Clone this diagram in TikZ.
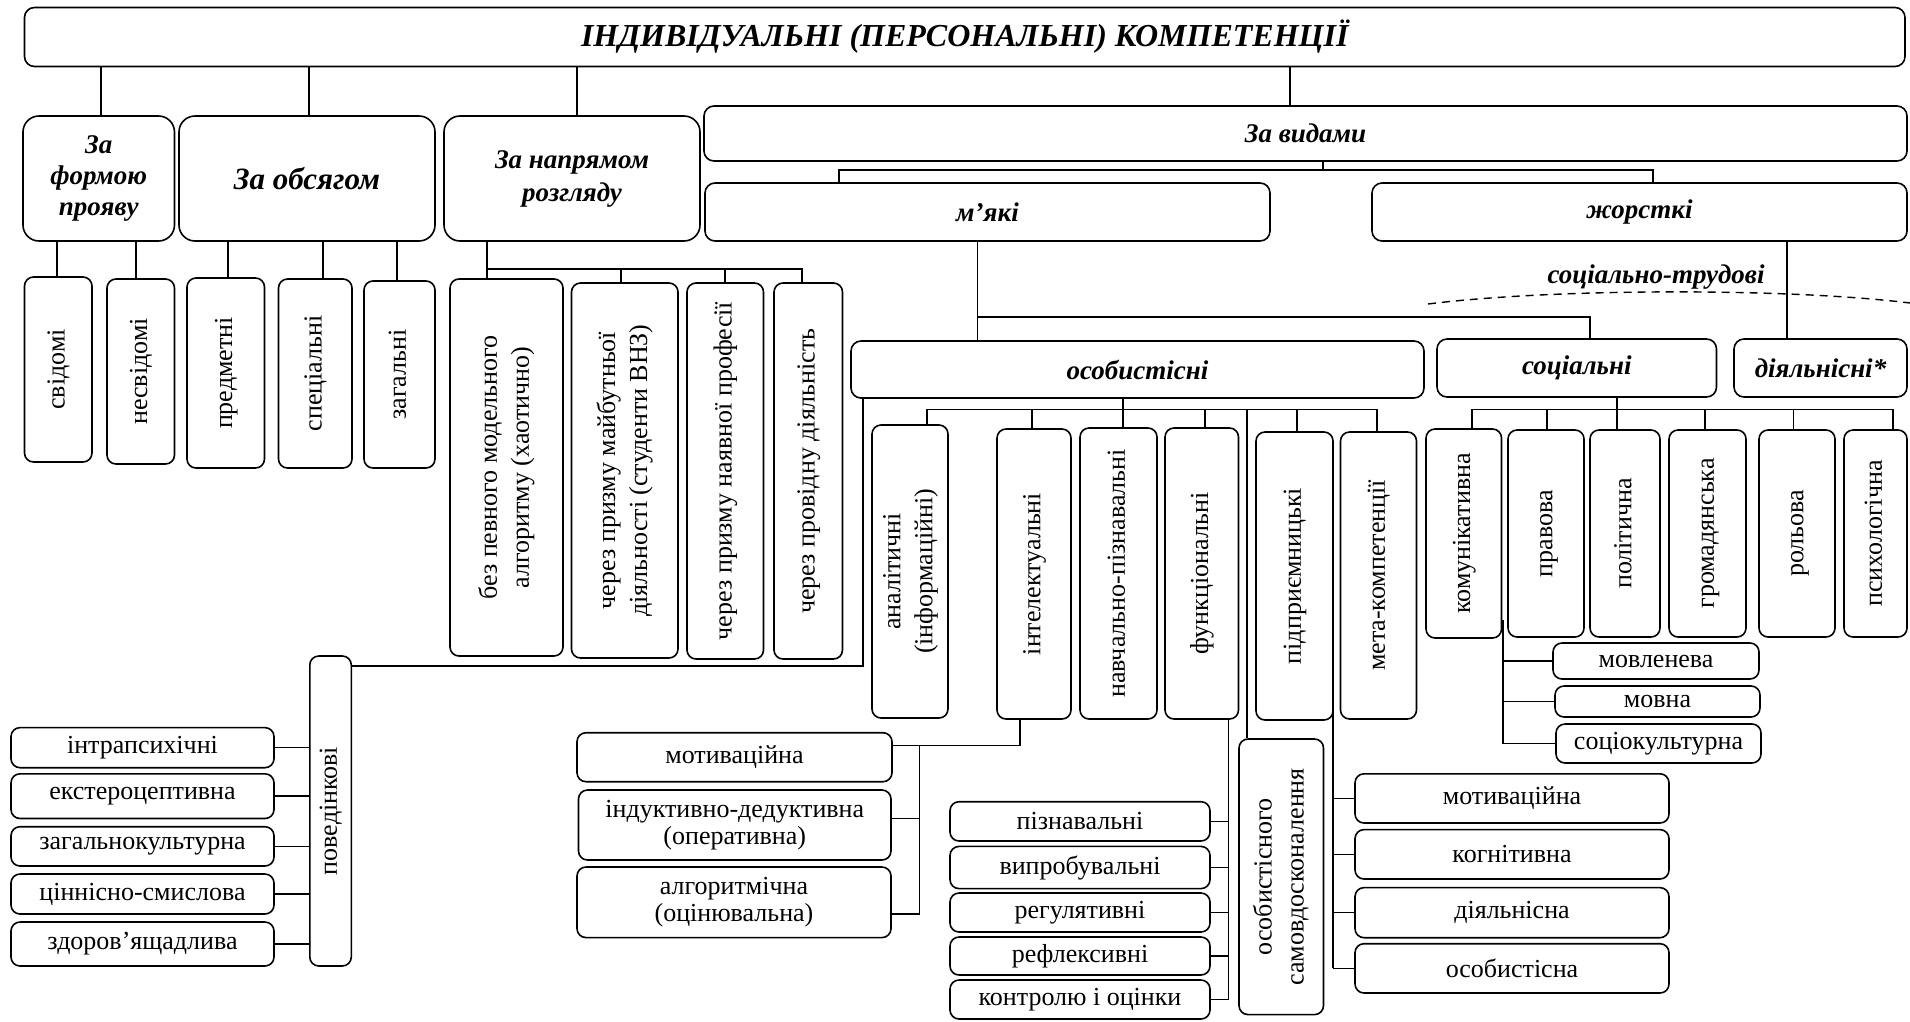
\documentclass[tikz,border=0pt]{standalone}
\usepackage{fontspec}
\usepackage{graphicx}
\setmainfont{Liberation Serif}
\newcommand\nfont{\fontsize{26}{27}\selectfont}
\newcommand\vfont{\fontsize{26}{32}\selectfont}
\newcommand\cfont{\fontsize{27}{32}\selectfont\bfseries\itshape}
\newcommand\vt[1]{\rotatebox{90}{\begin{tabular}{@{}c@{}}#1\end{tabular}}}
\newcommand\bx[7][]{\node[box,#1,minimum width={(#5)-(#3)},minimum height={(#6)-(#4)}] (#2) at ({((#3)+(#5))/2},{((#4)+(#6))/2}) {#7};}
\tikzset{
  box/.style={draw, line width=1.6pt, rounded corners=9pt, fill=white, inner sep=0pt, align=center, font=\nfont},
  vbox/.style={box, font=\vfont},
  catbox/.style={box, rounded corners=16pt, font=\cfont},
  ln/.style={line width=1.6pt}
}
\begin{document}
\begin{tikzpicture}[x=1pt,y=-1pt]
\useasboundingbox (0,0) rectangle (1910,1021);
% ---------- boxes ----------
\bx[catbox,rounded corners=10pt,font={\fontsize{32}{36}\selectfont\bfseries\itshape}]{title}{24.5}{7.5}{1905}{66.5}{ІНДИВІДУАЛЬНІ (ПЕРСОНАЛЬНІ) КОМПЕТЕНЦІЇ}
\bx[catbox,font={\fontsize{27}{31}\selectfont\bfseries\itshape}]{form}{23}{116}{174.5}{241}{За\\формою\\прояву}
\bx[catbox,font={\fontsize{31}{34}\selectfont\bfseries\itshape}]{obs}{179}{116}{435}{241}{За обсягом}
\bx[catbox,font={\fontsize{27}{33}\selectfont\bfseries\itshape}]{napr}{444}{116}{700}{241}{За напрямом\\розгляду}
\bx[catbox,rounded corners=10pt]{vydy}{704}{106}{1907}{161}{За видами}
\bx[catbox,rounded corners=10pt]{myaki}{705}{183}{1270}{241}{м’які}
\bx[catbox,rounded corners=10pt]{zhorst}{1372}{183}{1907}{241}{жорсткі}
% form / obs
\bx[vbox]{svid}{24.5}{277}{92}{462}{\vt{свідомі}}
\bx[vbox]{nesvid}{107}{279}{174.5}{464}{\vt{несвідомі}}
\bx[vbox]{predm}{187}{278}{264.5}{468}{\vt{предметні}}
\bx[vbox]{spec}{278.5}{279}{352}{468}{\vt{спеціальні}}
\bx[vbox]{zag}{364}{281}{435}{468}{\vt{загальні}}
% napr
\bx[vbox]{bez}{450}{279}{563}{656}{\vt{без певного модельного\\алгоритму (хаотично)}}
\bx[vbox]{chA}{571.5}{283}{678}{658}{\vt{через призму майбутньої\\діяльності (студенти ВНЗ)}}
\bx[vbox]{chB}{687}{283}{763.5}{659}{\vt{через призму наявної професії}}
\bx[vbox]{chC}{774}{283}{842.5}{659}{\vt{через провідну діяльність}}
% second level of vydy
\bx[catbox,rounded corners=10pt]{osob}{851}{341}{1424}{398}{особистісні}
\bx[catbox,rounded corners=10pt]{social}{1437}{339}{1716.5}{397}{соціальні}
\bx[catbox,rounded corners=10pt]{diyal}{1734}{339}{1907}{397}{діяльнісні*}
\node[font=\cfont] (st) at (1656,277) {соціально-трудові};
% osob children
\bx[vbox]{anal}{872}{425}{948}{718}{\vt{аналітичні\\(інформаційні)}}
\bx[vbox]{intel}{997}{429}{1071}{719}{\vt{інтелектуальні}}
\bx[vbox]{navch}{1080}{428}{1157}{719}{\vt{навчально-пізнавальні}}
\bx[vbox]{funk}{1165}{428}{1238.5}{719}{\vt{функціональні}}
\bx[vbox]{pidpr}{1256}{432}{1333}{720}{\vt{підприємницькі}}
\bx[vbox]{meta}{1340.5}{432}{1416.5}{719}{\vt{мета-компетенції}}
% social children
\bx[vbox]{komun}{1426}{429}{1501.5}{638}{\vt{комунікативна}}
\bx[vbox]{prav}{1508}{430}{1584}{637}{\vt{правова}}
\bx[vbox]{polit}{1590}{430}{1660}{637}{\vt{політична}}
\bx[vbox]{hromad}{1669}{430}{1746}{637}{\vt{громадянська}}
\bx[vbox]{rol}{1759}{430}{1835}{637}{\vt{рольова}}
\bx[vbox]{psych}{1844}{430}{1907}{637}{\vt{психологічна}}
\bx{movl}{1553}{643}{1759}{679}{мовленева}
\bx{movna}{1555}{686}{1760}{717}{мовна}
\bx{soc}{1556}{724}{1761}{763}{соціокультурна}
% povedinkovi
\bx[vbox]{poved}{309.8}{656}{351.3}{966}{\vt{поведінкові}}
\bx{intra}{11}{727.6}{274}{767.7}{інтрапсихічні}
\bx{ekst}{11}{773.8}{274}{818.5}{екстероцептивна}
\bx{zahk}{11}{826.7}{274}{866}{загальнокультурна}
\bx{tsin}{11}{874}{274}{914}{ціннісно-смислова}
\bx{zdor}{11}{922}{274}{966}{здоров’ящадлива}
% intel children
\bx{motA}{577}{732.7}{892}{781.7}{мотиваційна}
\bx{ind}{578.5}{790}{891}{860}{індуктивно-дедуктивна\\(оперативна)}
\bx{alh}{577}{867}{891}{937.6}{алгоритмічна\\(оцінювальна)}
% funk children
\bx{pizn}{950}{801.7}{1210}{841}{пізнавальні}
\bx{vypr}{950}{846.4}{1210}{888.6}{випробувальні}
\bx{reg}{950}{893}{1210}{932}{регулятивні}
\bx{refl}{950}{937}{1210}{975}{рефлексивні}
\bx{kontr}{950}{980}{1210}{1019}{контролю і оцінки}
\bx[vbox]{samov}{1239}{739}{1323.5}{1014.6}{\vt{особистісного\\самовдосконалення}}
% pidpr children
\bx{motB}{1355}{773.8}{1669}{823}{мотиваційна}
\bx{kogn}{1355}{829.6}{1669}{879}{когнітивна}
\bx{diyn}{1355}{887.6}{1669}{937.7}{діяльнісна}
\bx{osbn}{1355}{943.7}{1669}{993}{особистісна}
% ---------- connectors ----------
\coordinate (a1) at (101,0);
\coordinate (a2) at (309,0);
\coordinate (a3) at (577,0);
\coordinate (a4) at (1290,0);
\draw[ln] (title.south -| a1) -- (form.north -| a1);
\draw[ln] (title.south -| a2) -- (obs.north -| a2);
\draw[ln] (title.south -| a3) -- (napr.north -| a3);
\draw[ln] (title.south -| a4) -- (vydy.north -| a4);
% vydy
\coordinate (v1) at (1323,170);
\coordinate (v2) at (839,0);
\coordinate (v3) at (1653,0);
\draw[ln] (vydy.south -| v1) -- (v1);
\draw[ln] (myaki.north -| v2) |- (v1) -| (zhorst.north -| v3);
% form / obs children
\coordinate (b1) at (57,0);
\coordinate (b2) at (136,0);
\coordinate (b3) at (228,0);
\coordinate (b4) at (323,0);
\coordinate (b5) at (397,0);
\draw[ln] (form.south -| b1) -- (svid.north -| b1);
\draw[ln] (form.south -| b2) -- (nesvid.north -| b2);
\draw[ln] (obs.south -| b3) -- (predm.north -| b3);
\draw[ln] (obs.south -| b4) -- (spec.north -| b4);
\draw[ln] (obs.south -| b5) -- (zag.north -| b5);
% napr children
\coordinate (c0) at (487,269);
\coordinate (c1) at (621,0);
\coordinate (c2) at (725,0);
\coordinate (c3) at (802,0);
\draw[ln] (napr.south -| c0) -- (bez.north -| c0);
\draw[ln] (c0) -| (chC.north -| c3);
\draw[ln] (c1 |- c0) -- (chA.north -| c1);
\draw[ln] (c2 |- c0) -- (chB.north -| c2);
% zhorstki
\coordinate (d1) at (1787,0);
\draw[ln] (zhorst.south -| d1) -- (diyal.north -| d1);
\coordinate (arcL) at (1428,304);
\coordinate (arcP) at (1555,288);
\coordinate (arcQ) at (1790,288);
\coordinate (arcR) at (1910,303);
\draw[line width=1.4pt, dash pattern=on 8pt off 6pt] (arcL) .. controls (arcP) and (arcQ) .. (arcR);
% myaki
\coordinate (e1) at (977.5,317);
\coordinate (e2) at (1590,0);
\draw[ln] (myaki.south -| e1) -- (osob.north -| e1);
\draw[ln] (e1) -| (social.north -| e2);
% osob children
\coordinate (f0) at (1122.7,409.3);
\coordinate (fa) at (927,0);
\coordinate (fi) at (1032,0);
\coordinate (ff) at (1205,0);
\coordinate (fl) at (1247,0);
\coordinate (fp) at (1297,0);
\coordinate (fm) at (1377,0);
\draw[ln] (osob.south -| f0) -- (navch.north -| f0);
\draw[ln] (anal.north -| fa) |- (f0) -| (meta.north -| fm);
\draw[ln] (fi |- f0) -- (intel.north -| fi);
\draw[ln] (ff |- f0) -- (funk.north -| ff);
\draw[ln] (fl |- f0) -- (samov.north -| fl);
\draw[ln] (fp |- f0) -- (pidpr.north -| fp);
% osob -> poved
\coordinate (g1) at (863,666);
\draw[ln] (osob.south -| g1) -- (g1) -- (poved.east |- g1);
\foreach \n in {intra,ekst,zahk,tsin,zdor}{\draw[ln] (\n.east) -- (poved.west |- \n.east);}
% intel children
\coordinate (h1) at (1020,745.5);
\coordinate (h2) at (919.5,745.5);
\coordinate (h3) at (919.5,818.5);
\coordinate (h4) at (919.5,914);
\draw[ln] (intel.south -| h1) -- (h1) -- (motA.east |- h1);
\draw[ln] (h2) -- (h4) -- (alh.east |- h4);
\draw[ln] (h3) -- (ind.east |- h3);
% funk children
\coordinate (k0) at (1228.6,0);
\draw[ln] (funk.south -| k0) -- (k0 |- kontr.east);
\foreach \n in {pizn,vypr,reg,refl,kontr}{\draw[ln] (\n.east) -- (k0 |- \n.east);}
% pidpr children
\coordinate (m0) at (1333,700);
\draw[ln] (m0) -- (m0 |- osbn.west);
\foreach \n in {motB,kogn,diyn,osbn}{\draw[ln] (\n.west) -- (m0 |- \n.west);}
% social children
\coordinate (s0) at (1617,409.3);
\coordinate (s1) at (1472,0);
\coordinate (s2) at (1547,0);
\coordinate (s4) at (1705,0);
\coordinate (s5) at (1793.6,0);
\coordinate (s6) at (1893,0);
\draw[ln] (social.south -| s0) -- (polit.north -| s0);
\draw[ln] (komun.north -| s1) |- (s0) -| (psych.north -| s6);
\draw[ln] (s2 |- s0) -- (prav.north -| s2);
\draw[ln] (s4 |- s0) -- (hromad.north -| s4);
\draw[ln] (s5 |- s0) -- (rol.north -| s5);
% komun children
\coordinate (n0) at (1503,620);
\draw[ln] (n0) -- (n0 |- soc.west);
\foreach \n in {movl,movna,soc}{\draw[ln] (\n.west) -- (n0 |- \n.west);}
\end{tikzpicture}
\end{document}
